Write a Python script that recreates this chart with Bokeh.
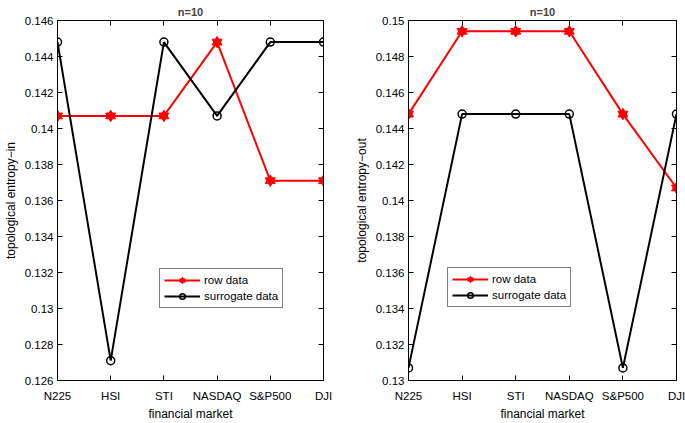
from bokeh.plotting import figure
from bokeh.layouts import row
from bokeh.models import Range1d, FixedTicker, NumeralTickFormatter, LinearAxis, Legend, LegendItem
from bokeh.embed import file_html
from bokeh.resources import INLINE

markets = ["N225", "HSI", "STI", "NASDAQ", "S&P500", "DJI"]
row_in = [0.1407, 0.1407, 0.1407, 0.1448, 0.1371, 0.1371]
sur_in = [0.1448, 0.1271, 0.1448, 0.1407, 0.1448, 0.1448]
row_out = [0.1448, 0.1494, 0.1494, 0.1494, 0.1448, 0.1407]
sur_out = [0.1307, 0.1448, 0.1448, 0.1448, 0.1307, 0.1448]
yticks_in = [0.126, 0.128, 0.130, 0.132, 0.134, 0.136, 0.138, 0.140, 0.142, 0.144, 0.146]
yticks_out = [0.130, 0.132, 0.134, 0.136, 0.138, 0.140, 0.142, 0.144, 0.146, 0.148, 0.150]
title_text = "n=10"
xlabel = "financial market"
ylabel_in = "topological entropy\u2212in"
ylabel_out = "topological entropy\u2212out"
series_names = ["row data", "surrogate data"]

FONT = "Liberation Sans"
xs = list(range(1, len(markets) + 1))
labels = {x: m for x, m in zip(xs, markets)}


def style_axis(ax, show_labels=True):
    ax.axis_line_color = "black"
    ax.major_tick_line_color = "black"
    ax.major_tick_in = 5
    ax.major_tick_out = 0
    ax.minor_tick_line_color = None
    ax.major_label_text_font = FONT
    if show_labels:
        ax.major_label_text_color = "black"
        ax.major_label_text_font_size = "11.5px"
        ax.major_label_standoff = 4
    else:
        ax.major_label_text_color = None
        ax.major_label_text_font_size = "1px"
        ax.major_label_standoff = 0
    ax.axis_label_text_font = FONT
    ax.axis_label_text_font_size = "12px"
    ax.axis_label_text_font_style = "normal"
    ax.axis_label_text_color = "black"


def panel(rv, sv, yticks, ylabel, width, bl, br, legend_xy):
    p = figure(width=width, height=423, output_backend="svg", toolbar_location=None,
               x_range=Range1d(xs[0], xs[-1]), y_range=Range1d(yticks[0], yticks[-1]),
               min_border_left=bl, min_border_right=br, min_border_top=19, min_border_bottom=40)
    p.grid.visible = False
    p.outline_line_color = "black"
    p.outline_line_alpha = 1
    p.background_fill_color = "white"
    p.border_fill_color = "white"
    p.title.text = title_text
    p.title.align = "center"
    p.title.text_font = FONT
    p.title.text_font_size = "11px"
    p.title.text_font_style = "bold"
    p.title.standoff = 6
    p.title.offset = 0

    xt = FixedTicker(ticks=xs)
    yt = FixedTicker(ticks=yticks)
    fmt = NumeralTickFormatter(format="0.[000]")

    p.xaxis.ticker = xt
    p.xaxis.major_label_overrides = labels
    p.xaxis.axis_label = xlabel
    p.yaxis.ticker = yt
    p.yaxis.formatter = fmt
    p.yaxis.axis_label = ylabel
    for ax in p.xaxis + p.yaxis:
        style_axis(ax)
    p.xaxis.major_label_standoff = 9
    p.xaxis.axis_label_standoff = 2
    p.yaxis.axis_label_standoff = 4

    top = LinearAxis(ticker=xt)
    style_axis(top, False)
    right = LinearAxis(ticker=yt)
    style_axis(right, False)
    p.add_layout(top, "above")
    p.add_layout(right, "right")

    l1 = p.line(xs, rv, line_color="red", line_width=2)
    m1 = p.scatter(xs, rv, marker="triangle", size=10, fill_color="red", line_color="red", line_width=1)
    m2 = p.scatter(xs, rv, marker="inverted_triangle", size=10, fill_color="red", line_color="red", line_width=1)
    l2 = p.line(xs, sv, line_color="black", line_width=2)
    m3 = p.scatter(xs, sv, marker="circle", size=8, fill_color=None, line_color="black", line_width=1.5)

    leg = Legend(items=[LegendItem(label=series_names[0], renderers=[l1, m1, m2]),
                        LegendItem(label=series_names[1], renderers=[l2, m3])],
                 location=legend_xy)
    leg.label_text_font = FONT
    leg.label_text_font_size = "11.5px"
    leg.label_text_color = "black"
    leg.glyph_width = 36
    leg.glyph_height = 14
    leg.label_height = 14
    leg.label_standoff = 4
    leg.spacing = 2
    leg.padding = 4
    leg.margin = 0
    leg.border_line_color = "black"
    leg.border_line_width = 1
    leg.background_fill_color = "white"
    leg.background_fill_alpha = 1
    p.add_layout(leg, "center")
    return p


p1 = panel(row_in, sur_in, yticks_in, ylabel_in, 345, 55, 22, (102, 72))
p2 = panel(row_out, sur_out, yticks_out, ylabel_out, 340, 63, 9, (39, 73))
layout = row(p1, p2)
open("out.html", "w").write(file_html(layout, INLINE))
